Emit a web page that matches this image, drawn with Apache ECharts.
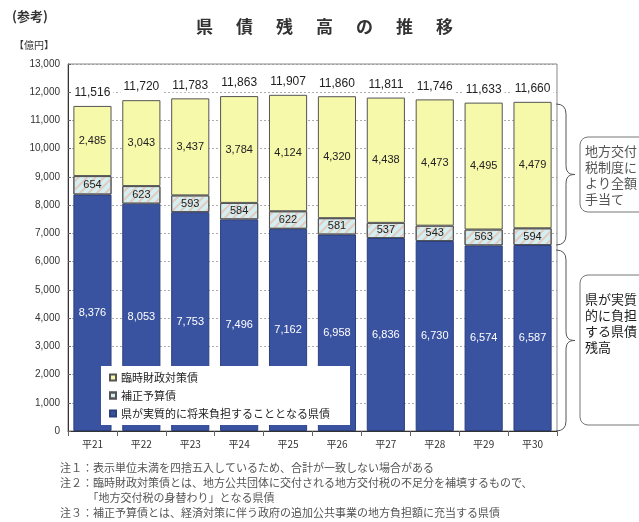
<!DOCTYPE html>
<html>
<head>
<meta charset="utf-8">
<script src="https://cdn.jsdelivr.net/npm/echarts@6/dist/echarts.min.js"></script>
<style>
  html, body { margin: 0; padding: 0; background: #fff; }
  #main { width: 639px; height: 522px; }
</style>
</head>
<body>
<div id="main"></div>
<script>
// 年度
var years = ['平21', '平22', '平23', '平24', '平25', '平26', '平27', '平28', '平29', '平30'];
// 県が実質的に将来負担することとなる県債
var jissitsu = [8376, 8053, 7753, 7496, 7162, 6958, 6836, 6730, 6574, 6587];
// 補正予算債
var hosei = [654, 623, 593, 584, 622, 581, 537, 543, 563, 594];
// 臨時財政対策債
var rinji = [2485, 3043, 3437, 3784, 4124, 4320, 4438, 4473, 4495, 4479];
// 合計
var totals = [11516, 11720, 11783, 11863, 11907, 11860, 11811, 11746, 11633, 11660];

var jp = '"Noto Sans CJK JP", sans-serif';
var num = '"Liberation Sans", Arial, sans-serif';

function fmt(v) {
    return v.toString().replace(/\B(?=(\d{3})+(?!\d))/g, ',');
}

// 中括弧
function brace(x, y1, y2) {
    var mid = (y1 + y2) / 2, xs = x + 10, xt = x + 19;
    var st = { stroke: '#555', fill: 'none', lineWidth: 1 };
    return [
        { type: 'bezierCurve', shape: { x1: x, y1: y1, x2: xs, y2: y1 + 10, cpx1: xs, cpy1: y1 }, style: st },
        { type: 'line', shape: { x1: xs, y1: y1 + 10, x2: xs, y2: mid - 10 }, style: st },
        { type: 'bezierCurve', shape: { x1: xs, y1: mid - 10, x2: xt, y2: mid, cpx1: xs, cpy1: mid - 3, cpx2: xs + 2, cpy2: mid }, style: st },
        { type: 'bezierCurve', shape: { x1: xt, y1: mid, x2: xs, y2: mid + 10, cpx1: xs + 2, cpy1: mid, cpx2: xs, cpy2: mid + 3 }, style: st },
        { type: 'line', shape: { x1: xs, y1: mid + 10, x2: xs, y2: y2 - 10 }, style: st },
        { type: 'bezierCurve', shape: { x1: xs, y1: y2 - 10, x2: x, y2: y2, cpx1: xs, cpy1: y2 }, style: st }
    ];
}

// タイトル（字間を広く）
var titleChars = '県債残高の推移'.split('').map(function (c, i) {
    return { type: 'text', left: 196 + i * 40, top: 18,
        style: { text: c, fontFamily: jp, fontSize: 17, fontWeight: 'bold', fill: '#333' } };
});

var myChart = echarts.init(document.getElementById('main'));

var graphics = [
    { type: 'text', left: 12, top: 10, style: { text: '(参考)', fontFamily: jp, fontSize: 13, fontWeight: 'bold', fill: '#333' } },
    { type: 'text', left: 14, top: 40, style: { text: '【億円】', fontFamily: jp, fontSize: 10, fill: '#333' } },
    { type: 'rect', shape: { x: 580, y: 137, width: 80, height: 75, r: 8 }, style: { stroke: '#777', fill: '#fff', lineWidth: 1 } },
    { type: 'text', left: 585, top: 143, style: { text: '地方交付\n税制度に\nより全額\n手当て', fontFamily: jp, fontSize: 13, lineHeight: 16, fill: '#555' } },
    { type: 'rect', shape: { x: 580, y: 275, width: 80, height: 150, r: 8 }, style: { stroke: '#777', fill: '#fff', lineWidth: 1 } },
    { type: 'text', left: 585, top: 291, style: { text: '県が実質\n的に負担\nする県債\n残高', fontFamily: jp, fontSize: 13, lineHeight: 16, fill: '#222' } },
    { type: 'text', left: 60, top: 460, style: {
        text: '注１：表示単位未満を四捨五入しているため、合計が一致しない場合がある\n注２：臨時財政対策債とは、地方公共団体に交付される地方交付税の不足分を補填するもので、\n　　　「地方交付税の身替わり」となる県債\n注３：補正予算債とは、経済対策に伴う政府の追加公共事業の地方負担額に充当する県債',
        fontFamily: jp, fontSize: 11, lineHeight: 15, fill: '#555' } }
].concat(titleChars, brace(556, 104, 245), brace(556, 250, 431));

var opt = {
    backgroundColor: '#fff',
    animation: false,
    grid: {
        left: 68, top: 64, right: 82, bottom: 91,
        show: true, borderColor: '#888', borderWidth: 1
    },
    legend: {
        orient: 'vertical',
        left: 101, top: 366,
        backgroundColor: '#fff',
        padding: [6, 20, 6, 8],
        itemWidth: 6, itemHeight: 6,
        itemGap: 7,
        icon: 'rect',
        textStyle: { fontFamily: jp, fontSize: 11, color: '#222' },
        data: ['臨時財政対策債', '補正予算債', '県が実質的に将来負担することとなる県債']
    },
    xAxis: {
        type: 'category',
        data: years,
        axisLine: { lineStyle: { color: '#333' } },
        axisTick: { show: true, lineStyle: { color: '#666' } },
        axisLabel: { fontFamily: jp, fontSize: 10, color: '#333', margin: 8 }
    },
    yAxis: {
        type: 'value',
        min: 0, max: 13000, interval: 1000,
        axisLine: { show: true, lineStyle: { color: '#333' } },
        axisTick: { show: true, inside: true, length: 3, lineStyle: { color: '#666' } },
        axisLabel: {
            fontFamily: num, fontSize: 10, color: '#333', margin: 8,
            formatter: function (v) { return fmt(v); }
        },
        splitLine: { show: true, lineStyle: { color: '#999', type: [2, 2], width: 0.8 } }
    },
    series: [
        {
            name: '県が実質的に将来負担することとなる県債',
            type: 'bar', stack: 'a', barCategoryGap: '22%',
            data: jissitsu,
            itemStyle: { color: '#3a53a0', borderColor: '#2c3f7e', borderWidth: 1 },
            label: {
                show: true, position: 'inside', color: '#fff',
                fontFamily: num, fontSize: 11,
                formatter: function (p) { return fmt(p.value); }
            }
        },
        {
            name: '補正予算債',
            type: 'bar', stack: 'a',
            data: hosei,
            itemStyle: {
                color: '#d3eff2', borderColor: '#555', borderWidth: 1,
                decal: {
                    symbol: 'rect',
                    color: 'rgba(240,175,155,0.6)',
                    dashArrayX: [1, 0],
                    dashArrayY: [1.5, 4],
                    rotation: -Math.PI / 4
                }
            },
            label: {
                show: true, position: 'inside', color: '#222',
                fontFamily: num, fontSize: 11,
                formatter: function (p) { return fmt(p.value); }
            }
        },
        {
            name: '臨時財政対策債',
            type: 'bar', stack: 'a',
            data: rinji,
            itemStyle: { color: '#f6f8aa', borderColor: '#555', borderWidth: 1 },
            label: {
                show: true, position: 'inside', color: '#222',
                fontFamily: num, fontSize: 11,
                formatter: function (p) { return fmt(p.value); }
            }
        },
        {
            name: '合計',
            type: 'bar', stack: 'a',
            data: totals.map(function () { return 0; }),
            itemStyle: { color: 'transparent' },
            label: {
                show: true, position: 'top', distance: 6,
                color: '#222', fontFamily: num, fontSize: 12,
                backgroundColor: '#fff', padding: [1, 3],
                formatter: function (p) { return fmt(totals[p.dataIndex]); }
            }
        }
    ],
    graphic: graphics
};

myChart.setOption(opt);
</script>
</body>
</html>
